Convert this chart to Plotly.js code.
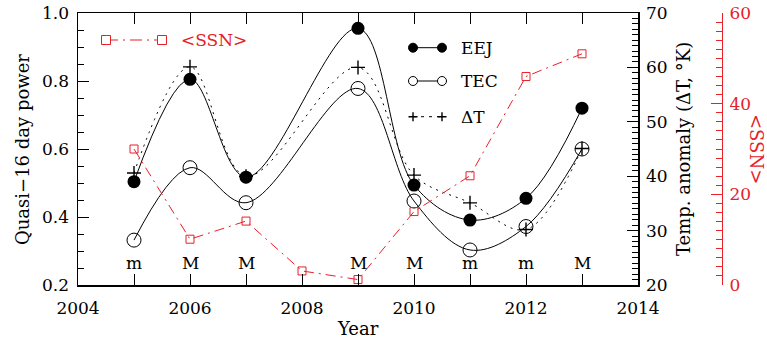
<!DOCTYPE html>
<html>
<head>
<meta charset="utf-8">
<script src="https://cdn.plot.ly/plotly-3.0.1.min.js"></script>
<style>html,body{margin:0;padding:0;background:#fff;}#chart{width:767px;height:338px;}</style>
</head>
<body>
<div id="chart"></div>
<script>
// ---- data ----
const years = [2005, 2006, 2007, 2009, 2010, 2011, 2012, 2013];
const eej = [0.504, 0.805, 0.517, 0.955, 0.494, 0.391, 0.455, 0.72];
const tec = [0.332, 0.545, 0.442, 0.778, 0.447, 0.303, 0.372, 0.60];
const deltaT = [40.6, 60.1, 40.0, 60.0, 40.2, 35.1, 30.2, 45.1];
const ssnYears = [2005, 2006, 2007, 2008, 2009, 2010, 2011, 2012, 2013];
const ssn = [30.0, 10.1, 14.1, 3.1, 1.2, 16.2, 24.1, 46.0, 51.0];
const phaseYears = [2005, 2006, 2007, 2009, 2010, 2011, 2012, 2013];
const phaseLabels = ["m", "M", "M", "M", "M", "m", "m", "M"];
const phaseLevel = 0.266;

const RED = "rgb(232,32,40)";
const FONT = "DejaVu Serif";
const W = 767, H = 338;
const px = v => v / W;
const py = v => (H - v) / H;

const traces = [
  {x: ssnYears, y: ssn, yaxis: "y3", type: "scatter", mode: "lines+markers",
   line: {color: RED, width: 1, dash: "10px,5px,2px,5px"},
   marker: {symbol: "square-open", size: 8, color: RED, line: {width: 1}}, showlegend: false},
  {x: years, y: deltaT, yaxis: "y2", type: "scatter", mode: "lines+markers",
   line: {color: "black", width: 1, dash: "2px,5px", shape: "spline"},
   marker: {symbol: "cross-thin-open", size: 10, color: "black", line: {width: 1.4, color: "black"}}, showlegend: false},
  {x: years, y: tec, yaxis: "y", type: "scatter", mode: "lines+markers",
   line: {color: "black", width: 1, shape: "spline"},
   marker: {symbol: "circle-open", size: 14, color: "black", line: {width: 1}}, showlegend: false},
  {x: years, y: eej, yaxis: "y", type: "scatter", mode: "lines+markers",
   line: {color: "black", width: 1, shape: "spline"},
   marker: {symbol: "circle", size: 13, color: "black"}, showlegend: false}
];

const tickFont = {family: FONT, size: 17, color: "black"};
const annotations = phaseYears.map((yr, i) => ({
  x: yr, y: phaseLevel, xref: "x", yref: "y", text: phaseLabels[i], showarrow: false,
  font: {family: FONT, size: 17, color: "black"}, xanchor: "center", yanchor: "middle"
}));
annotations.push(
  {x: px(22), y: py(150), xref: "paper", yref: "paper", text: "Quasi−16 day power", textangle: -90, showarrow: false,
   font: {family: FONT, size: 18, color: "black"}, xanchor: "center", yanchor: "middle"},
  {x: px(358), y: py(328), xref: "paper", yref: "paper", text: "Year", showarrow: false,
   font: {family: FONT, size: 18, color: "black"}, xanchor: "center", yanchor: "middle"},
  {x: px(683), y: py(149), xref: "paper", yref: "paper", text: "Temp. anomaly (ΔT, °K)", textangle: -90, showarrow: false,
   font: {family: FONT, size: 18, color: "black"}, xanchor: "center", yanchor: "middle"},
  {x: px(757), y: py(149), xref: "paper", yref: "paper", text: "&lt;SSN&gt;", textangle: 90, showarrow: false,
   font: {family: FONT, size: 18, color: RED}, xanchor: "center", yanchor: "middle"},
  {x: px(459), y: py(47.7), xref: "paper", yref: "paper", text: "EEJ", showarrow: false,
   font: {family: FONT, size: 17, color: "black"}, xanchor: "left", yanchor: "middle"},
  {x: px(459), y: py(81), xref: "paper", yref: "paper", text: "TEC", showarrow: false,
   font: {family: FONT, size: 17, color: "black"}, xanchor: "left", yanchor: "middle"},
  {x: px(459), y: py(116.7), xref: "paper", yref: "paper", text: "ΔT", showarrow: false,
   font: {family: FONT, size: 17, color: "black"}, xanchor: "left", yanchor: "middle"},
  {x: px(179), y: py(40), xref: "paper", yref: "paper", text: "&lt;SSN&gt;", showarrow: false,
   font: {family: FONT, size: 17, color: RED}, xanchor: "left", yanchor: "middle"}
);

function circ(cx, cy, r, filled) {
  return {type: "circle", xref: "paper", yref: "paper", xsizemode: "pixel", ysizemode: "pixel",
    xanchor: px(cx), yanchor: py(cy), x0: -r, x1: r, y0: -r, y1: r,
    line: {color: "black", width: 1}, fillcolor: filled ? "black" : "white"};
}
function sq(cx, cy, r) {
  return {type: "rect", xref: "paper", yref: "paper", xsizemode: "pixel", ysizemode: "pixel",
    xanchor: px(cx), yanchor: py(cy), x0: -r, x1: r, y0: -r, y1: r,
    line: {color: RED, width: 1}, fillcolor: "white"};
}
function plus(cx, cy, r) {
  return {type: "path", xref: "paper", yref: "paper", xsizemode: "pixel", ysizemode: "pixel",
    xanchor: px(cx), yanchor: py(cy),
    path: `M${-r},0L${r},0M0,${-r}L0,${r}`, line: {color: "black", width: 1.4}};
}
function seg(x0, x1, y, color, dash) {
  return {type: "line", xref: "paper", yref: "paper", x0: px(x0), x1: px(x1), y0: py(y), y1: py(y),
    line: {color: color, width: 1, dash: dash}};
}
const shapes = [
  seg(413, 442, 47.7, "black", "solid"), circ(413, 47.7, 4.5, true), circ(442, 47.7, 4.5, true),
  seg(413, 442, 81, "black", "solid"), circ(413, 81, 4.5, false), circ(442, 81, 4.5, false),
  seg(413, 442, 116.7, "black", "3px,5px"), plus(413, 116.7, 4.5), plus(442, 116.7, 4.5),
  seg(106, 162, 40, RED, "12px,5px,2px,5px"), sq(106, 40, 4.5), sq(162, 40, 4.5)
];

const layout = {
  width: W, height: H,
  margin: {l: 0, r: 0, t: 0, b: 0, autoexpand: false},
  paper_bgcolor: "white", plot_bgcolor: "white",
  showlegend: false,
  font: {family: FONT},
  xaxis: {domain: [px(78), px(638)], range: [2004, 2014], tick0: 2004, dtick: 2,
    ticks: "inside", ticklen: 11, tickwidth: 1, tickcolor: "black",
    minor: {dtick: 1, ticks: "inside", ticklen: 6, tickwidth: 1, tickcolor: "black"},
    showline: true, linecolor: "black", linewidth: 1.5, mirror: "allticks",
    showgrid: false, zeroline: false, tickfont: tickFont, ticklabelstandoff: 7},
  yaxis: {domain: [py(285), py(13)], range: [0.2, 1.0], tick0: 0.2, dtick: 0.2, tickformat: ".1f",
    ticks: "inside", ticklen: 11, tickwidth: 1, tickcolor: "black",
    minor: {dtick: 0.05, ticks: "inside", ticklen: 6, tickwidth: 1, tickcolor: "black"},
    showline: true, linecolor: "black", linewidth: 1.5, mirror: true,
    showgrid: false, zeroline: false, tickfont: tickFont, ticklabelstandoff: 4},
  yaxis2: {overlaying: "y", side: "right", anchor: "x", range: [20, 70], tick0: 20, dtick: 10,
    ticks: "inside", ticklen: 11, tickwidth: 1, tickcolor: "black",
    minor: {dtick: 1, ticks: "inside", ticklen: 6, tickwidth: 1, tickcolor: "black"},
    showline: true, linecolor: "black", linewidth: 1.5,
    showgrid: false, zeroline: false, tickfont: tickFont, ticklabelstandoff: 3},
  yaxis3: {overlaying: "y", side: "right", anchor: "free", position: px(722), range: [0, 60], tick0: 0, dtick: 20,
    ticks: "inside", ticklen: 11, tickwidth: 1, tickcolor: RED,
    minor: {dtick: 2, ticks: "inside", ticklen: 6, tickwidth: 1, tickcolor: RED},
    showline: true, linecolor: RED, linewidth: 1,
    showgrid: false, zeroline: false, tickfont: {family: FONT, size: 17, color: RED}, ticklabelstandoff: 3},
  annotations: annotations,
  shapes: shapes
};

Plotly.newPlot("chart", traces, layout, {staticPlot: true, displayModeBar: false});
</script>
</body>
</html>
